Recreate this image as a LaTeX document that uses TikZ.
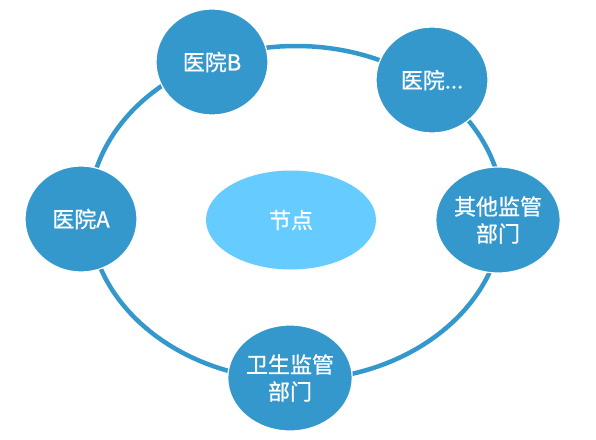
\documentclass[tikz,border=0pt]{standalone}
\usepackage{fontspec}
\newfontfamily\cjk[FakeBold=0.8]{Noto Sans CJK SC}
\usetikzlibrary{shapes.geometric}

\definecolor{nodeblue}{RGB}{53,152,204}
\definecolor{coreblue}{RGB}{102,204,255}

\tikzset{
  member/.style={ellipse, fill=nodeblue, draw=white, line width=1.2pt,
    minimum width=112, minimum height=106, inner sep=0pt,
    text=white, align=center, font=\cjk\fontsize{22}{27}\selectfont},
  core/.style={ellipse, fill=coreblue, minimum width=170, minimum height=99,
    inner sep=0pt, text=white, font=\cjk\fontsize{22}{27}\selectfont},
  ringline/.style={draw=nodeblue, line width=4.5pt}
}

\begin{document}
\begin{tikzpicture}[x=1pt,y=-1pt]
  \useasboundingbox (0,0) rectangle (596,439);
  % outer ring
  \coordinate (ring) at (296,213);
  \draw [ringline] (ring) ellipse [x radius=207, y radius=167];
  % centre
  \node [core] (hub) at (291,220) {节点};
  % members on the ring
  \node [member] (hospA) at (81,219) {医院A};
  \node [member] (hospB) at (212,62) {医院B};
  \node [member] (hospN) at (432,80) {医院...};
  \node [member] (other) at (498,220) {其他监管\\部门};
  \node [member] (health) at (290,378) {卫生监管\\部门};
\end{tikzpicture}
\end{document}
